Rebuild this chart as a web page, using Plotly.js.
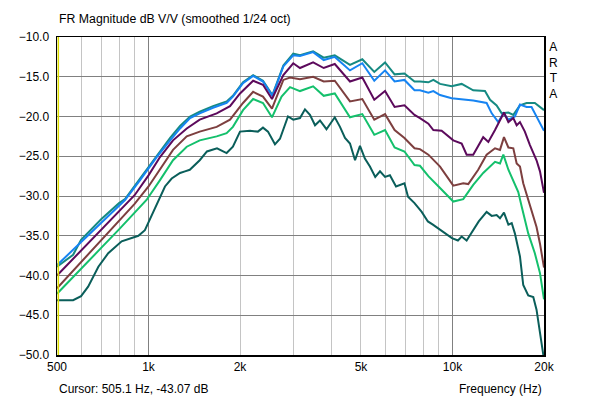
<!DOCTYPE html>
<html>
<head>
<meta charset="utf-8">
<script src="https://cdn.plot.ly/plotly-3.0.1.min.js"></script>
<style>
html, body { margin: 0; padding: 0; background: #fff; }
#chart { width: 600px; height: 400px; }
</style>
</head>
<body>
<div id="chart"></div>
<script>
// frequency (Hz) / level (dB) pairs, one pair of arrays per curve
const fTeal = [500, 565, 600, 700, 800, 837, 938, 1064, 1178, 1270, 1370, 1474, 1630, 1808, 1895, 2046, 2209, 2380, 2556, 2777, 2993, 3150, 3480, 3770, 4100, 4600, 5050, 5530, 6000, 6450, 6950, 7500, 7816, 8330, 8650, 9100, 9935, 10720, 11700, 12790, 13290, 13970, 14520, 15270, 15850, 16670, 17530, 18660, 20000];
const dbTeal = [-38.9, -37.4, -35.5, -32.9, -30.9, -30.4, -27.8, -24.9, -22.7, -21.2, -20.0, -19.4, -18.7, -18.1, -17.4, -15.7, -14.8, -15.5, -17.3, -13.6, -12.1, -12.3, -11.8, -12.6, -12.3, -13.5, -12.8, -14.4, -13.2, -14.7, -14.6, -15.6, -15.6, -15.7, -15.4, -15.9, -16.2, -15.9, -16.7, -16.8, -17.9, -18.6, -19.6, -19.5, -19.8, -18.6, -18.3, -18.3, -19.2];

const fBlue = [500, 600, 700, 837, 938, 1064, 1178, 1270, 1370, 1474, 1630, 1808, 1895, 2046, 2209, 2380, 2556, 2777, 2993, 3150, 3480, 3770, 4100, 4600, 5050, 5530, 6000, 6450, 6950, 7500, 7816, 8330, 8650, 9100, 9935, 10720, 11700, 12950, 13460, 14150, 14700, 15270, 16040, 16670, 17530, 18200, 18900, 20000];
const dbBlue = [-38.7, -35.8, -33.3, -30.5, -28.0, -25.1, -23.0, -21.5, -20.2, -19.6, -18.9, -18.3, -17.5, -15.8, -14.9, -15.6, -17.4, -13.7, -12.3, -12.4, -11.9, -12.9, -12.5, -14.2, -13.3, -15.5, -14.2, -15.6, -15.4, -16.7, -16.7, -17.0, -16.8, -17.3, -17.7, -17.8, -18.0, -18.3, -19.6, -20.7, -19.6, -20.4, -20.0, -18.5, -18.8, -18.8, -20.0, -21.8];

const fPurple = [500, 600, 700, 800, 900, 1000, 1091, 1204, 1336, 1474, 1676, 1854, 2000, 2209, 2380, 2548, 2777, 2993, 3150, 3480, 3770, 4100, 4600, 5050, 5530, 6000, 6450, 6950, 7500, 7816, 8330, 8650, 9210, 10060, 10720, 11130, 11700, 12620, 13120, 13800, 14330, 14770, 15270, 15850, 16260, 16670, 17300, 17980, 18900, 19400, 20000];
const dbPurple = [-40.0, -36.9, -34.3, -32.0, -29.9, -27.4, -25.1, -23.0, -21.5, -20.4, -19.6, -18.7, -17.1, -15.5, -16.0, -17.8, -14.8, -13.3, -13.9, -13.2, -13.9, -13.4, -15.6, -15.1, -17.9, -16.8, -18.8, -18.6, -19.8, -20.2, -20.9, -21.7, -21.8, -23.0, -23.4, -24.8, -24.8, -22.6, -23.2, -21.7, -20.4, -19.5, -20.7, -20.2, -21.1, -20.7, -21.9, -23.6, -25.5, -26.9, -29.6];

const fBrown = [500, 600, 700, 800, 900, 1000, 1100, 1204, 1336, 1474, 1676, 1854, 2046, 2209, 2380, 2548, 2777, 2921, 3150, 3480, 3770, 4100, 4600, 5050, 5530, 6000, 6450, 6950, 7500, 7816, 8330, 9100, 10060, 10850, 11270, 12150, 12950, 13800, 14330, 14770, 15270, 15850, 16260, 16670, 17090, 17980, 18900, 19400, 20000];
const dbBrown = [-41.6, -38.3, -35.6, -33.2, -31.0, -28.8, -26.5, -24.2, -22.5, -21.9, -21.3, -20.4, -18.3, -16.9, -17.5, -19.0, -15.4, -15.1, -15.3, -15.0, -15.6, -15.5, -18.1, -17.8, -20.4, -19.7, -21.7, -22.7, -24.0, -24.1, -24.8, -26.3, -28.7, -28.4, -28.5, -26.7, -24.8, -24.0, -24.2, -22.6, -23.9, -24.0, -25.9, -26.3, -28.4, -31.3, -33.9, -36.0, -39.0];

const fGreen = [500, 600, 700, 800, 900, 985, 1091, 1204, 1336, 1474, 1676, 1807, 1895, 2046, 2209, 2380, 2548, 2740, 2921, 3150, 3480, 3770, 4100, 4600, 5050, 5530, 6000, 6450, 6950, 7500, 7816, 8330, 9100, 10060, 10850, 11700, 12620, 13290, 13800, 14330, 14700, 15270, 15850, 16460, 16880, 17750, 18660, 19400, 20000];
const dbGreen = [-42.3, -39.1, -36.5, -34.2, -32.1, -30.5, -28.0, -25.5, -23.8, -23.0, -22.5, -22.1, -21.3, -19.2, -17.8, -18.3, -20.1, -17.5, -16.3, -16.8, -16.2, -17.4, -17.1, -20.1, -19.7, -22.3, -21.7, -23.9, -24.4, -26.1, -26.2, -27.5, -29.0, -30.7, -30.4, -28.6, -27.1, -26.3, -25.7, -25.9, -24.8, -26.7, -28.0, -29.5, -31.3, -34.7, -37.2, -39.7, -43.0];

const fDark = [500, 565, 600, 633, 684, 737, 816, 926, 973, 1050, 1133, 1192, 1270, 1318, 1367, 1474, 1557, 1680, 1807, 1895, 2000, 2157, 2290, 2380, 2472, 2606, 2707, 2876, 2993, 3150, 3271, 3397, 3530, 3665, 3850, 4100, 4265, 4430, 4600, 4780, 4962, 5150, 5350, 5570, 5775, 6000, 6225, 6520, 6950, 7140, 7500, 7920, 8300, 8620, 9300, 9960, 10420, 10720, 11130, 11700, 12200, 12950, 13460, 13970, 14330, 14770, 15270, 15660, 16040, 16670, 17090, 17750, 18440, 18900, 19400, 19650, 19900];
const dbDark = [-43.1, -43.1, -42.6, -41.4, -38.9, -37.2, -35.7, -35.0, -34.3, -31.5, -28.8, -27.8, -27.1, -26.9, -26.7, -25.5, -24.4, -24.0, -24.6, -23.8, -21.9, -21.8, -21.9, -21.4, -21.9, -23.5, -22.8, -20.0, -20.4, -20.2, -19.1, -19.8, -21.1, -20.5, -21.6, -20.1, -21.3, -22.7, -23.4, -25.5, -23.7, -25.3, -26.3, -27.6, -26.9, -27.6, -27.4, -28.8, -28.4, -30.1, -30.9, -32.0, -33.2, -33.6, -34.5, -35.3, -35.6, -35.1, -35.6, -34.3, -33.2, -32.0, -32.5, -32.4, -32.8, -32.1, -33.6, -33.4, -34.7, -37.6, -41.2, -42.5, -42.7, -44.3, -47.2, -49.0, -50.0];

const xTickVals = [500, 1000, 2000, 5000, 10000, 20000];
const xTickText = ["500", "1k", "2k", "5k", "10k", "20k"];
const minorVals = [600, 700, 800, 900, 3000, 4000, 6000, 7000, 8000, 9000];
const decadeVals = [1000, 10000];
const cursorHz = 505.1;
const yMin = -50, yMax = -10;

const curves = [
  [fTeal, dbTeal, "#168a82"],
  [fBlue, dbBlue, "#1684f2"],
  [fPurple, dbPurple, "#5c0a5c"],
  [fBrown, dbBrown, "#7d3f3f"],
  [fGreen, dbGreen, "#14c06c"],
  [fDark, dbDark, "#0a5e5a"]
];

// the decade grid axis needs a trace to be drawn
const data = [{x: [500, 20000], y: [yMin, yMin], xaxis: "x2", type: "scatter", mode: "lines",
  line: {width: 0}, hoverinfo: "skip"}];

curves.forEach(c => data.push({
  x: c[0],
  y: c[1],
  type: "scatter",
  mode: "lines",
  line: {color: c[2], width: 2},
  hoverinfo: "skip"
}));

// yellow cursor line
data.push({
  x: [cursorHz, cursorHz],
  y: [yMin, yMax],
  type: "scatter",
  mode: "lines",
  line: {color: "#dcdc00", width: 1.5},
  hoverinfo: "skip"
});

const font = {family: "Liberation Sans, Arial, sans-serif", size: 12, color: "#000"};

const annotations = [
  {text: "FR Magnitude dB V/V (smoothed 1/24 oct)", xref: "paper", yref: "paper", x: 0, y: 1,
   yshift: 18, xanchor: "left", yanchor: "middle", showarrow: false,
   font: {family: font.family, size: 12.3, color: "#000"}},
  {text: "Cursor: 505.1 Hz, -43.07 dB", xref: "paper", yref: "paper", x: 0, y: -0.107,
   xanchor: "left", yanchor: "middle", showarrow: false, font: font},
  {text: "Frequency (Hz)", xref: "paper", yref: "paper", x: 1, y: -0.107,
   xanchor: "right", yanchor: "middle", showarrow: false, font: font},
  {text: "A<br>R<br>T<br>A", xref: "paper", yref: "paper", x: 1, y: 1, xshift: 9, yshift: -1,
   xanchor: "center", yanchor: "top", showarrow: false,
   font: {family: font.family, size: 12, color: "#000"}}
];

const layout = {
  width: 600,
  height: 400,
  margin: {t: 37, l: 57, b: 45, r: 56},
  paper_bgcolor: "#fff",
  plot_bgcolor: "#fff",
  showlegend: false,
  font: font,
  xaxis: {
    type: "log",
    range: [Math.log10(500), Math.log10(20000)],
    tickvals: xTickVals,
    ticktext: xTickText,
    ticks: "",
    showgrid: true,
    gridcolor: "#c4c4c4",
    gridwidth: 1,
    minor: {tickvals: minorVals, showgrid: true, gridcolor: "#c4c4c4", gridwidth: 1, ticks: ""},
    showline: true,
    mirror: true,
    linecolor: "#000",
    linewidth: 1.5,
    zeroline: false,
    tickfont: font
  },
  xaxis2: {
    type: "log",
    overlaying: "x",
    range: [Math.log10(500), Math.log10(20000)],
    tickvals: decadeVals,
    showticklabels: false,
    ticks: "",
    showgrid: true,
    gridcolor: "#808080",
    gridwidth: 1,
    showline: false,
    zeroline: false
  },
  yaxis: {
    range: [yMin, yMax],
    dtick: 5,
    tickformat: ".1f",
    ticks: "",
    ticklabelstandoff: 4,
    showgrid: true,
    gridcolor: "#808080",
    gridwidth: 1,
    showline: true,
    mirror: true,
    linecolor: "#000",
    linewidth: 1.5,
    zeroline: false,
    tickfont: font
  },
  annotations: annotations
};

Plotly.newPlot("chart", data, layout, {staticPlot: true});
</script>
</body>
</html>
